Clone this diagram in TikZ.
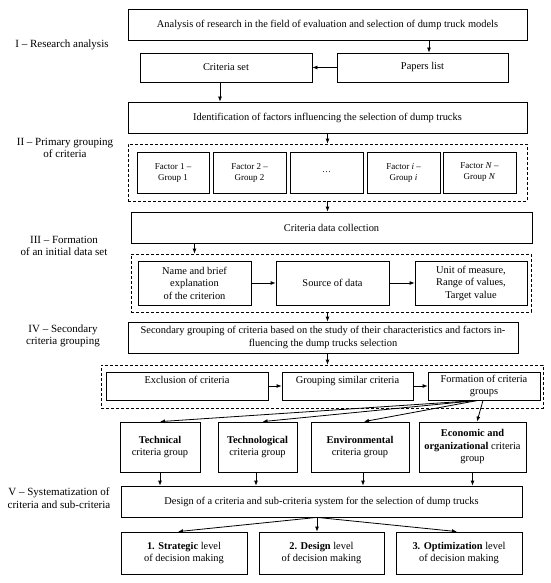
\documentclass[tikz,border=0pt]{standalone}
\usepackage{fontspec}
\setmainfont{Liberation Serif}
\usetikzlibrary{arrows.meta}
\begin{document}
\begin{tikzpicture}[x=1pt,y=-1pt,
  box/.style={draw,line width=0.8pt,inner sep=1pt,align=center,font=\fontsize{10.4}{12.5}\selectfont},
  dbox/.style={draw,line width=0.8pt,dash pattern=on 3pt off 2pt},
  stage/.style={align=center,font=\fontsize{11}{12.5}\selectfont},
  arr/.style={line width=0.8pt,-{Latex[length=5pt,width=4pt]}}]
\useasboundingbox (0,0) rectangle (550,583);

% stage labels
\node[stage] (s1) at (62,45) {I -- Research analysis};
\node[stage] (s2) at (65,148) {II -- Primary grouping\\of criteria};
\node[stage] (s3) at (64,246) {III -- Formation\\of an initial data set};
\node[stage] (s4) at (63,336) {IV -- Secondary\\criteria grouping};
\node[stage] (s5) at (59,498) {V -- Systematization of\\criteria and sub-criteria};

% I
\node[box,minimum width=399,minimum height=31] (top) at (327.5,24.5) {Analysis of research in the field of evaluation and selection of dump truck models};
\node[box,minimum width=172,minimum height=29] (crit) at (226,67.5) {Criteria set};
\node[box,minimum width=171,minimum height=29] (papers) at (422.5,67.5) {Papers list};
\node[box,minimum width=399,minimum height=31] (ident) at (327.5,117.5) {Identification of factors influencing the selection of dump trucks};

% II
\node[dbox,minimum width=399,minimum height=57] (grpII) at (327.5,172.5) {};
\node[box,font=\fontsize{9}{11}\selectfont,minimum width=72,minimum height=41] (f1) at (173,172.5) {Factor 1 --\\Group 1};
\node[box,font=\fontsize{9}{11}\selectfont,minimum width=73,minimum height=41] (f2) at (249.5,172.5) {Factor 2 --\\Group 2};
\node[box,font=\fontsize{9}{11}\selectfont,minimum width=73,minimum height=41] (fdots) at (326.5,172.5) {\dots};
\node[box,font=\fontsize{9}{11}\selectfont,minimum width=73,minimum height=41] (fi) at (403.5,172.5) {Factor \textit{i} --\\Group \textit{i}};
\node[box,font=\fontsize{9}{11}\selectfont,minimum width=73,minimum height=41] (fN) at (479.5,172.5) {Factor \textit{N} --\\Group \textit{N}};

% III
\node[box,minimum width=401,minimum height=31] (collect) at (331.5,227.5) {Criteria data collection};
\node[dbox,minimum width=400,minimum height=58] (grpIII) at (331,283) {};
\node[box,minimum width=113,minimum height=44] (name) at (194.5,283) {Name and brief\\explanation\\of the criterion};
\node[box,minimum width=113,minimum height=44] (source) at (332.5,283) {Source of data};
\node[box,minimum width=112,minimum height=44] (unit) at (471,283) {Unit of measure,\\Range of values,\\Target value};

% IV
\node[box,minimum width=390,minimum height=31] (secIV) at (323,337.5) {Secondary grouping of criteria based on the study of their characteristics and factors in-\\fluencing the dump trucks selection};
\node[dbox,minimum width=442,minimum height=43] (grpIV) at (322,386.5) {};
\node[box,minimum width=162,minimum height=28] (excl) at (187,386) {Exclusion of criteria\\\mbox{}};
\node[box,minimum width=131,minimum height=28] (similar) at (347.5,386) {Grouping similar criteria\\\mbox{}};
\node[box,minimum width=112,minimum height=28] (form) at (484,386) {Formation of criteria\\groups};

% groups
\node[box,minimum width=80,minimum height=50] (tech) at (160,447) {\textbf{Technical}\\criteria group};
\node[box,minimum width=79,minimum height=50] (techn) at (257.5,447) {\textbf{Technological}\\criteria group};
\node[box,minimum width=98,minimum height=50] (env) at (360,447) {\textbf{Environmental}\\criteria group};
\node[box,minimum width=107,minimum height=50] (econ) at (472.5,447) {\textbf{Economic and}\\\textbf{organizational} criteria\\group};

% V
\node[box,minimum width=401,minimum height=31] (design) at (321.5,501.5) {Design of a criteria and sub-criteria system for the selection of dump trucks};
\node[box,minimum width=126,minimum height=42] (strat) at (184,553) {\textbf{1. Strategic} level\\of decision making};
\node[box,minimum width=125,minimum height=42] (dlev) at (321.5,553) {\textbf{2. Design} level\\of decision making};
\node[box,minimum width=126,minimum height=42] (opt) at (459,553) {\textbf{3. Optimization} level\\of decision making};

\coordinate (ffan) at ([xshift=-6]form.south);
\coordinate (dfan) at ([xshift=-4.5]design.south);

% connectors
\path[draw,arr] ([xshift=6.5]papers.north |- top.south) -- ([xshift=6.5]papers.north);
\path[draw,arr] (papers.west) -- (crit.east);
\path[draw,arr] ([xshift=-6]crit.south) -- ([xshift=-6]crit.south |- ident.north);
\path[draw,arr] (ident.south) -- (ident.south |- grpII.north);
\path[draw,arr] (ident.south |- grpII.south) -- (ident.south |- collect.north);
\path[draw,arr] (name.north |- collect.south) -- (name.north |- grpIII.north);
\path[draw,arr] (name.east) -- (source.west);
\path[draw,arr] (source.east) -- (unit.west);
\path[draw,arr] (ident.south |- grpIII.south) -- (ident.south |- secIV.north);
\path[draw,arr] (ident.south |- secIV.south) -- (ident.south |- grpIV.north);
\path[draw,arr] (excl.east) -- (similar.west);
\path[draw,arr] (similar.east) -- (form.west);

\path[draw,arr] (ffan) -- (tech.north);
\path[draw,arr] (ffan) -- ([xshift=5]techn.north);
\path[draw,arr] (ffan) -- ([xshift=4]env.north);
\path[draw,arr] ([xshift=5]ffan) -- ([xshift=4.5]econ.north);

\path[draw,arr] (tech.south) -- (tech.south |- design.north);
\path[draw,arr] ([xshift=-1.5]techn.south) -- ([xshift=-1.5]techn.south |- design.north);
\path[draw,arr] ([xshift=3]env.south) -- ([xshift=3]env.south |- design.north);
\path[draw,arr] (econ.south) -- (econ.south |- design.north);

\path[draw,arr] (dfan) -- ([xshift=-6]strat.north);
\path[draw,arr] (dfan) -- (dfan |- dlev.north);
\path[draw,arr] (dfan) -- ([xshift=-2]opt.north);
\end{tikzpicture}
\end{document}
